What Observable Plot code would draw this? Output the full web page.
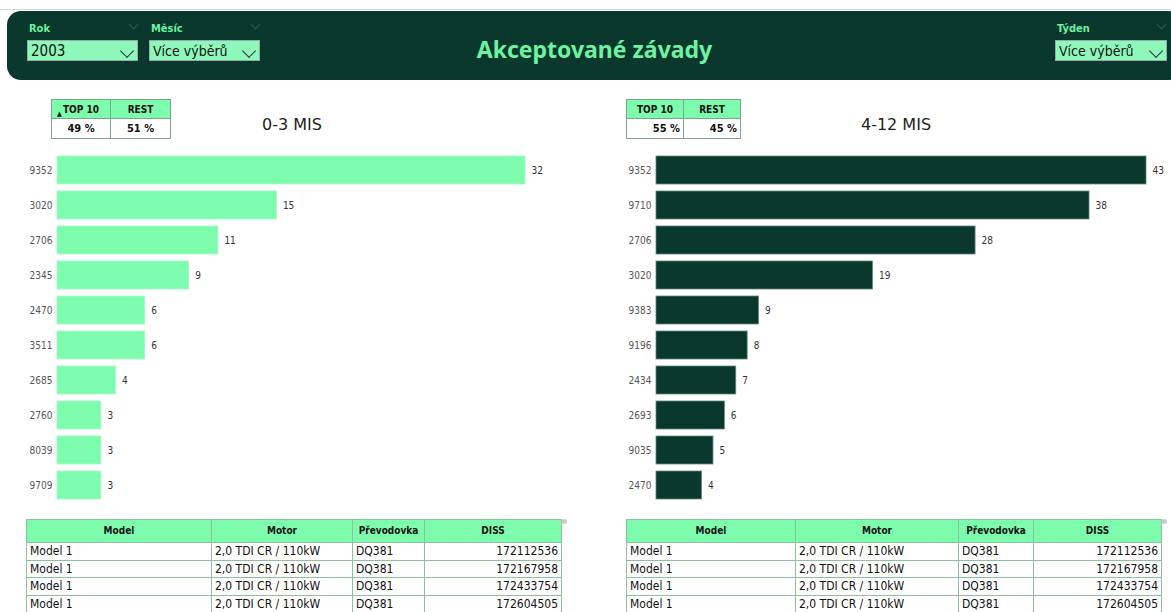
<!DOCTYPE html>
<html><head><meta charset="utf-8">
<script src="https://cdn.jsdelivr.net/npm/d3@7"></script>
<script src="https://cdn.jsdelivr.net/npm/@observablehq/plot@0.6"></script>
<style>
body{margin:0;width:1171px;height:612px;overflow:hidden;background:#fff;position:relative;font-family:"DejaVu Sans Condensed","Liberation Sans Narrow","Roboto",sans-serif;}
.abs{position:absolute;}
#topline{left:0;top:9px;width:1171px;height:1px;background:#d6d6d6;}
#header{left:7px;top:11px;width:1175px;height:69px;background:#0a382d;border-radius:14px;}
.slab{position:absolute;color:#6ff0a0;font-weight:bold;font-size:11px;}
.sbox{position:absolute;height:21px;background:#8ef8ba;border:1px solid #9aa;box-sizing:border-box;color:#111;font-size:14px;line-height:20px;padding-left:3px;}
.chev{position:absolute;right:5px;top:5px;width:9px;height:9px;border-right:1px solid #334;border-bottom:1px solid #334;transform:rotate(45deg);transform-origin:center;}
.fchev{position:absolute;width:6px;height:6px;border-right:1px solid #2c5a4c;border-bottom:1px solid #2c5a4c;transform:rotate(45deg);}
#title{left:9px;width:1171px;top:33px;text-align:center;color:#6ff3a2;font-weight:bold;font-size:23px;font-family:"Noto Sans","Open Sans",sans-serif;}
table{border-collapse:collapse;position:absolute;table-layout:fixed;}
.kpi td{border:1px solid #7aa58c;font-size:10px;font-weight:bold;text-align:center;padding:0;color:#111;position:relative;}
.kpi tr.h td{background:#7efcad;height:18px;}
.kpi tr.v td{background:#fff;height:19px;font-size:11px;}
.tri{position:absolute;left:5px;bottom:0px;font-size:7px;line-height:7px;}
.ctitle{position:absolute;font-size:16px;color:#222;text-align:center;width:200px;font-family:"DejaVu Sans","Noto Sans",sans-serif;}
.det td{border:1px solid #8cc09f;font-size:12px;color:#111;padding:0 3px;height:16.5px;line-height:16.5px;white-space:nowrap;overflow:hidden;}
.det tr.h td{background:#7efcad;font-size:10px;font-weight:bold;text-align:center;height:22px;}
.det td.r{text-align:right;}
.dot{position:absolute;width:5px;height:5px;border-radius:50%;background:#c8c8c8;}
</style></head>
<body>
<div id="topline" class="abs"></div>
<div id="header" class="abs"></div>
<div id="title" class="abs">Akceptované závady</div>
<div id="slicers"></div>
<div class="ctitle" style="left:192px;top:115px;">0-3 MIS</div>
<div class="ctitle" style="left:796px;top:115px;">4-12 MIS</div>
<div id="chartL" class="abs" style="left:0;top:152px;"></div>
<div id="chartR" class="abs" style="left:600px;top:152px;"></div>
<div class="dot" style="left:562px;top:519px;"></div>
<div class="dot" style="left:1162px;top:519px;"></div>
<script>
const leftCats = ["9352","3020","2706","2345","2470","3511","2685","2760","8039","9709"];
const leftVals = [32,15,11,9,6,6,4,3,3,3];
const rightCats = ["9352","9710","2706","3020","9383","9196","2434","2693","9035","2470"];
const rightVals = [43,38,28,19,9,8,7,6,5,4];
const kpiHeaders = ["TOP 10","REST"];
const kpiLeft = ["49 %","51 %"];
const kpiRight = ["55 %","45 %"];
const tableHeaders = ["Model","Motor","Převodovka","DISS"];
const tModel = ["Model 1","Model 1","Model 1","Model 1"];
const tMotor = ["2,0 TDI CR / 110kW","2,0 TDI CR / 110kW","2,0 TDI CR / 110kW","2,0 TDI CR / 110kW"];
const tGear = ["DQ381","DQ381","DQ381","DQ381"];
const tDiss = ["172112536","172167958","172433754","172604505"];
const slicers = [
  {label:"Rok", value:"2003"},
  {label:"Měsíc", value:"Více výběrů"},
  {label:"Týden", value:"Více výběrů"}
];

// slicers
const sl = document.getElementById("slicers");
const sx = [27,149,1055];
slicers.forEach((s,i)=>{
  const x = sx[i];
  sl.insertAdjacentHTML("beforeend",
    `<div class="slab" style="left:${x+2}px;top:22px;">${s.label}</div>
     <div class="fchev" style="left:${x+103}px;top:21px;"></div>
     <div class="sbox" style="left:${x}px;top:40px;width:${i==2?112:111}px;${i==0?'font-size:15px;':''}">${s.value}<div class="chev"></div></div>`);
});

function kpi(left, vals, arrow, w){
  const t = document.createElement("table");
  t.className="kpi";
  t.style.left=left+"px"; t.style.top="99px";
  t.innerHTML = `<colgroup><col style="width:${w[0]}px"><col style="width:${w[1]}px"></colgroup>
   <tr class="h">${kpiHeaders.map((h,i)=>`<td>${h}${arrow&&i==0?'<span class="tri">▲</span>':''}</td>`).join("")}</tr>
   <tr class="v">${vals.map(v=>`<td style="text-align:${arrow?'center':'right'};padding:0 3px">${v}</td>`).join("")}</tr>`;
  document.body.appendChild(t);
}
kpi(51,kpiLeft,true,[59,60]); kpi(626,kpiRight,false,[57,57]);

function detail(left, widths){
  const t = document.createElement("table");
  t.className="det";
  t.style.left=left+"px"; t.style.top="519px";
  let h = `<colgroup>${widths.map(w=>`<col style="width:${w}px">`).join("")}</colgroup>`;
  h += `<tr class="h">${tableHeaders.map(x=>`<td>${x}</td>`).join("")}</tr>`;
  tModel.forEach((m,i)=>{
    h += `<tr><td>${m}</td><td>${tMotor[i]}</td><td>${tGear[i]}</td><td class="r">${tDiss[i]}</td></tr>`;
  });
  t.innerHTML = h;
  document.body.appendChild(t);
}
detail(26,[185,141,72,137]);
detail(626,[169,163,75,128]);

function bars(cats, vals, color, width, mLeft, mRight, xmax){
  const data = cats.map((c,i)=>({c, v:vals[i]}));
  return Plot.plot({
    width, height:350, marginTop:0, marginBottom:0, marginLeft:mLeft, marginRight:mRight,
    style:{fontFamily:'"DejaVu Sans Condensed","Liberation Sans Narrow",sans-serif', background:"transparent"},
    x:{domain:[0,xmax], axis:null},
    y:{domain:cats, paddingInner:0.2, paddingOuter:0.1, label:null},
    marks:[
      Plot.barX(data,{y:"c", x:"v", fill:color, stroke:color==="#0a382d"?"#5f8a7c":"#a8f8c8", strokeWidth:0.8}),
      Plot.text(data,{y:"c", x:"v", text:d=>String(d.v), textAnchor:"start", dx:6, fontSize:10, fill:"#333"}),
      Plot.axisY({tickSize:0, tickPadding:5, fontSize:10, color:"#555", label:null})
    ]
  });
}
document.getElementById("chartL").appendChild(bars(leftCats,leftVals,"#7efcad",580,57,55,32));
document.getElementById("chartR").appendChild(bars(rightCats,rightVals,"#0a382d",571,56,25,43));
</script>
</body></html>
